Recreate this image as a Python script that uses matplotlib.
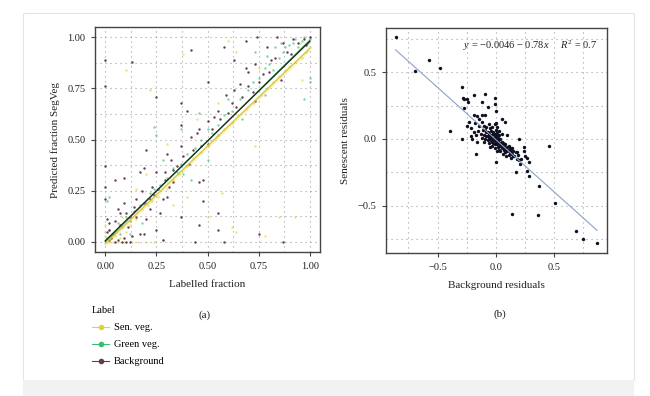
import matplotlib
matplotlib.use('Agg')
import matplotlib.pyplot as plt
from matplotlib.lines import Line2D
from matplotlib.patches import Rectangle
import numpy as np

plt.rcParams['font.family'] = ['Liberation Serif', 'DejaVu Serif']
plt.rcParams['mathtext.fontset'] = 'custom'
plt.rcParams['mathtext.rm'] = 'Liberation Serif'
plt.rcParams['mathtext.it'] = 'Liberation Serif:italic'

# ---- panel (a): labelled vs predicted fraction ----
bg_x = [0.00, 0.00, 0.00, 0.00, 0.00, 0.01, 0.05, 0.09, 0.13, 0.20, 0.19, 0.25, 0.25, 0.42, 0.58,
        0.74, 0.84, 0.69, 0.70, 0.73, 0.75, 0.79, 0.81, 0.63, 0.59, 0.50, 0.46, 0.37, 0.37, 0.37,
        0.32, 0.29, 0.31, 0.28, 0.27, 0.25, 0.28, 0.46, 0.48, 0.48, 0.46, 0.55, 0.55, 0.44, 0.58,
        0.75, 0.87, 0.37, 0.30, 0.23, 0.17, 0.15, 0.14, 0.10, 0.07, 0.04, 0.02, 0.06, 0.09, 0.13,
        0.17, 0.20, 0.22, 0.19, 0.07, 0.05, 0.02, 0.19, 0.24, 0.33, 0.38, 0.42, 0.45, 0.50, 0.53,
        0.55, 0.64, 0.66, 0.69, 0.73, 0.87, 0.91, 0.92, 0.86, 0.63, 0.50, 0.40, 0.30,
        0.01, 0.03, 0.05, 0.08, 0.10, 0.12, 0.02, 0.11, 0.15, 0.06, 0.09, 0.12, 0.18, 0.22, 0.26,
        0.29, 0.33, 0.35, 0.41, 0.43, 0.47, 0.52, 0.56, 0.60, 0.62, 0.67, 0.70, 0.72, 0.77, 0.80,
        0.83, 0.89, 0.94, 0.97, 1.00, 0.98]
bg_y = [0.89, 0.76, 0.37, 0.27, 0.21, 0.11, 0.30, 0.31, 0.88, 0.45, 0.36, 0.34, 0.71, 0.94, 0.95,
        1.00, 1.00, 0.98, 0.83, 0.69, 0.78, 0.95, 0.89, 0.74, 0.72, 0.59, 0.55, 0.68, 0.57, 0.47,
        0.40, 0.34, 0.27, 0.21, 0.14, 0.06, 0.01, 0.29, 0.30, 0.20, 0.08, 0.06, 0.14, 0.00, 0.00,
        0.04, 0.00, 0.12, 0.22, 0.27, 0.34, 0.21, 0.17, 0.14, 0.08, 0.04, 0.01, 0.01, 0.02, 0.03,
        0.04, 0.11, 0.16, 0.19, 0.14, 0.10, 0.06, 0.04, 0.23, 0.35, 0.42, 0.51, 0.53, 0.48, 0.61,
        0.64, 0.66, 0.77, 0.85, 0.87, 0.97, 0.92, 0.99, 0.79, 0.89, 0.78, 0.64, 0.43,
        0.05, 0.02, 0.00, 0.00, 0.00, 0.00, 0.09, 0.07, 0.12, 0.16, 0.19, 0.12, 0.25, 0.21, 0.26,
        0.30, 0.29, 0.37, 0.38, 0.45, 0.47, 0.55, 0.60, 0.63, 0.68, 0.71, 0.76, 0.73, 0.82, 0.83,
        0.90, 0.93, 0.97, 0.99, 1.00, 0.96]

gr_x = [0.75, 0.78, 0.80, 0.82, 0.85, 0.87, 0.88, 0.90, 0.92, 0.94, 0.96, 0.97, 0.99, 1.00, 0.93,
        0.86, 0.79, 0.83, 0.70, 0.72, 0.66, 0.62, 0.58, 0.55, 0.52, 0.50, 0.47, 0.44, 0.40, 0.37,
        0.35, 0.33, 0.30, 0.27, 0.24, 0.22, 0.20, 0.17, 0.14, 0.12, 0.10, 0.08, 0.06, 0.05, 0.03,
        0.02, 0.01, 0.07, 0.01, 0.02, 0.25, 0.24, 0.37, 0.46, 0.55, 0.60, 0.73, 1.00, 1.00, 0.97,
        0.42, 0.28, 0.12, 0.18, 0.67, 0.78, 0.50, 0.38]
gr_y = [0.80, 0.85, 0.87, 0.84, 0.90, 0.93, 0.95, 0.96, 0.97, 0.95, 0.98, 1.00, 0.97, 0.99, 0.99,
        0.97, 0.91, 0.95, 0.74, 0.78, 0.70, 0.64, 0.62, 0.57, 0.53, 0.55, 0.50, 0.46, 0.43, 0.38,
        0.34, 0.36, 0.31, 0.28, 0.26, 0.24, 0.19, 0.18, 0.15, 0.10, 0.12, 0.07, 0.09, 0.05, 0.03,
        0.06, 0.02, 0.04, 0.20, 0.22, 0.52, 0.56, 0.55, 0.63, 0.52, 0.70, 0.93, 0.78, 0.80, 0.70,
        0.30, 0.40, 0.04, 0.09, 0.60, 0.72, 0.40, 0.33]

sen_x = [0.02, 0.04, 0.06, 0.09, 0.13, 0.16, 0.20, 0.24, 0.28, 0.03, 0.05, 0.07, 0.10, 0.12, 0.15,
         0.18, 0.21, 0.23, 0.26, 0.30, 0.33, 0.36, 0.40, 0.43, 0.47, 0.50, 0.54, 0.58, 0.62, 0.65,
         0.69, 0.72, 0.76, 0.79, 0.82, 0.85, 0.88, 0.90, 0.93, 0.96, 0.98, 1.00, 0.95,
         0.10, 0.22, 0.38, 0.30, 0.62, 0.64, 0.85, 0.78, 0.57, 0.93, 0.60, 0.64, 0.73, 0.96, 0.50,
         0.20, 0.15, 0.33, 0.40, 0.45, 0.55, 0.75, 0.08, 0.00, 0.00, 0.00]
sen_y = [0.00, 0.00, 0.00, 0.00, 0.00, 0.00, 0.00, 0.00, 0.01, 0.02, 0.03, 0.02, 0.05, 0.08, 0.11,
         0.16, 0.18, 0.20, 0.22, 0.26, 0.30, 0.33, 0.37, 0.41, 0.44, 0.47, 0.51, 0.55, 0.58, 0.62,
         0.65, 0.68, 0.72, 0.75, 0.78, 0.81, 0.84, 0.86, 0.88, 0.90, 0.93, 0.95, 0.97,
         0.84, 0.74, 0.92, 0.48, 0.07, 0.05, 0.12, 0.03, 0.24, 0.12, 0.98, 0.93, 0.47, 0.79, 0.12,
         0.33, 0.26, 0.18, 0.22, 0.60, 0.68, 0.85, 0.12, 0.05, 0.08, 0.03]

# fitted lines per class: (intercept, slope)
fit_bg = (0.005, 0.975)
fit_gr = (0.000, 0.985)
fit_sen = (-0.010, 0.955)

# ---- panel (b): residuals ----
res_bx = [-0.86, -0.69, -0.57, -0.48, -0.29, -0.28, -0.27, -0.25, -0.24, -0.27, -0.19, -0.09, -0.12,
          -0.07, -0.01, -0.01, 0.00, -0.19, -0.16, -0.12, -0.09, -0.39, -0.29, -0.17, 0.00, 0.05,
          0.08, 0.10, 0.20, 0.24, 0.24, 0.25, 0.27, 0.29, 0.17, 0.27, 0.29, 0.37, 0.46, 0.51, 0.14,
          0.36, 0.69, 0.75, 0.87, 0.21, 0.18, 0.15, 0.12, 0.09, 0.08, 0.14, 0.18, 0.22, 0.11, 0.06,
          0.04,
          -0.02, 0.00, -0.04, -0.01, 0.01, -0.03, 0.02, -0.05, -0.06, 0.03, -0.02, 0.00, -0.04, 0.01,
          -0.01, 0.00, -0.07, -0.08, -0.09, -0.06, -0.03, 0.00, 0.02, 0.04, 0.05, 0.06, 0.03, 0.07,
          0.08, 0.10, 0.11, 0.09, 0.12, 0.13, 0.14, -0.10, -0.11, -0.12, -0.13, -0.15, -0.17, -0.19,
          -0.21, -0.20, -0.16, -0.14, -0.12, -0.10, -0.08, -0.06, -0.05, -0.03, -0.01, 0.01, 0.02,
          0.04, -0.02, -0.04, -0.07, -0.05, -0.01, 0.01, 0.05, 0.06, 0.08, 0.10, 0.12, 0.15, 0.16,
          0.17, 0.19, 0.20, 0.03, 0.05, -0.03, -0.01, 0.00, -0.02, 0.01, -0.04, -0.06, -0.08, 0.00,
          0.02, -0.10, -0.25, -0.23, -0.18, -0.14, -0.21, -0.03, 0.02, -0.05, 0.04, -0.01, 0.06,
          -0.02, -0.03, 0.01, -0.01, 0.02, -0.04, 0.00, -0.02, 0.03, -0.05, 0.01, -0.03, 0.04, 0.05,
          0.07, 0.09, -0.07, -0.09, 0.11, 0.13]
res_sy = [0.76, 0.51, 0.59, 0.53, 0.39, 0.31, 0.30, 0.30, 0.28, 0.23, 0.33, 0.34, 0.28, 0.24, 0.31,
          0.26, 0.21, 0.18, 0.17, 0.18, 0.18, 0.06, 0.00, -0.11, -0.17, 0.15, 0.13, 0.03, 0.00,
          -0.06, -0.09, -0.13, -0.14, -0.17, -0.25, -0.24, -0.28, -0.35, -0.05, -0.48, -0.56,
          -0.57, -0.69, -0.75, -0.78, -0.19, -0.15, -0.13, -0.11, -0.09, -0.07, -0.07, -0.10, -0.15,
          -0.05, -0.05, -0.09,
          0.01, 0.02, 0.03, -0.01, 0.00, -0.02, -0.02, 0.00, 0.04, 0.03, 0.05, 0.07, 0.06, 0.09,
          0.11, 0.12, 0.02, 0.05, 0.00, -0.03, -0.05, -0.04, -0.06, -0.04, -0.02, -0.05, -0.08,
          -0.08, -0.10, -0.09, -0.12, -0.13, -0.10, -0.14, -0.11, 0.03, 0.07, 0.01, 0.04, 0.06,
          0.03, 0.05, 0.08, 0.00, -0.02, 0.10, 0.13, 0.10, 0.09, 0.11, 0.08, 0.09, 0.04, 0.05,
          0.01, 0.00, -0.03, -0.01, -0.01, -0.06, -0.07, -0.09, -0.07, -0.11, -0.04, -0.06, -0.07,
          -0.09, -0.13, -0.10, -0.12, -0.16, 0.06, 0.04, 0.00, 0.02, 0.00, -0.01, 0.03, 0.02, 0.01,
          0.02, -0.02, -0.03, -0.02, 0.10, 0.13, 0.12, 0.15, 0.02, -0.01, -0.01, 0.01, -0.03, -0.04,
          -0.03,
          0.00, 0.01, -0.01, 0.02, -0.01, 0.01, 0.03, 0.04, -0.03, 0.02, -0.04, -0.01, -0.05, -0.03,
          -0.06, -0.07, 0.05, 0.07, -0.08, -0.09]
res_fit = (-0.0046, -0.78)
res_fit_range = [-0.86, 0.87]

col_sen = '#e3d13a'
col_gr = '#3cbb75'
col_bg = '#4a1a3c'

fig = plt.figure(figsize=(6.5, 3.96), dpi=100)
fig.patch.set_facecolor('white')
fig.patches.append(Rectangle((23 / 650, 1 - 380 / 396), 611 / 650, 367 / 396, transform=fig.transFigure,
                             facecolor='white', edgecolor='#e4e4e4', linewidth=0.8, zorder=-10))
fig.patches.append(Rectangle((23 / 650, 0), 611 / 650, 16 / 396, transform=fig.transFigure,
                             facecolor='#f2f2f2', edgecolor='none', zorder=-10))

ax1 = fig.add_axes([95 / 650, 1 - 252 / 396, 225 / 650, 225 / 396])
ax2 = fig.add_axes([386 / 650, 1 - 253 / 396, 221 / 650, 225 / 396])


def style(ax):
    ax.set_facecolor('white')
    ax.grid(True, which='both', linestyle=(0, (1, 3.5)), color='#a0a0a0', linewidth=0.8)
    ax.set_axisbelow(True)
    for s in ax.spines.values():
        s.set_color('#444444')
        s.set_linewidth(1.0)
    ax.tick_params(which='major', length=3, width=0.8, color='#444444', labelsize=7.5,
                   labelcolor='#222222', pad=4)
    ax.tick_params(which='minor', length=0)


# panel (a)
ax1.scatter(sen_x, sen_y, s=3, color=col_sen, alpha=0.65, linewidths=0)
ax1.scatter(gr_x, gr_y, s=3, color=col_gr, alpha=0.65, linewidths=0)
ax1.scatter(bg_x, bg_y, s=3, color=col_bg, alpha=0.85, linewidths=0)
xx = np.array([0.0, 1.0])
ax1.fill_between(xx, fit_sen[0] + fit_sen[1] * xx - 0.012, fit_sen[0] + fit_sen[1] * xx + 0.012,
                 color=col_sen, alpha=0.25, linewidth=0)
ax1.plot(xx, fit_sen[0] + fit_sen[1] * xx, color='#d9c53a', linewidth=0.9)
ax1.plot(xx, fit_gr[0] + fit_gr[1] * xx, color='#2f9e5e', linewidth=0.9)
ax1.plot(xx, fit_bg[0] + fit_bg[1] * xx, color='#1c2a14', linewidth=0.9)
ax1.set_xlim(-0.05, 1.05)
ax1.set_ylim(-0.05, 1.05)
ax1.set_xticks([0, 0.25, 0.5, 0.75, 1.0])
ax1.set_yticks([0, 0.25, 0.5, 0.75, 1.0])
ax1.set_xticks([0.125, 0.375, 0.625, 0.875], minor=True)
ax1.set_yticks([0.125, 0.375, 0.625, 0.875], minor=True)
ax1.set_xticklabels(['0.00', '0.25', '0.50', '0.75', '1.00'])
ax1.set_yticklabels(['0.00', '0.25', '0.50', '0.75', '1.00'])
style(ax1)
ax1.set_xlabel('Labelled fraction', fontsize=8, color='#222222', labelpad=7)
ax1.set_ylabel('Predicted fraction SegVeg', fontsize=8, color='#222222', labelpad=5)

# panel (b)
ax2.scatter(res_bx, res_sy, s=6, color='#101020', linewidths=0)
rx = np.array(res_fit_range)
ax2.plot(rx, res_fit[0] + res_fit[1] * rx, color='#8aa3c4', linewidth=0.8)
ax2.set_xlim(-0.943, 0.956)
ax2.set_ylim(-0.853, 0.83)
ax2.set_xticks([-0.5, 0.0, 0.5])
ax2.set_yticks([-0.5, 0.0, 0.5])
ax2.set_xticks([-0.75, -0.25, 0.25, 0.75], minor=True)
ax2.set_yticks([-0.75, -0.25, 0.25, 0.75], minor=True)
ax2.set_xticklabels(['\u22120.5', '0.0', '0.5'])
ax2.set_yticklabels(['\u22120.5', '0.0', '0.5'])
style(ax2)
ax2.set_xlabel('Background residuals', fontsize=8, color='#222222', labelpad=7)
ax2.set_ylabel('Senescent residuals', fontsize=8, color='#222222', labelpad=5)
eq = '$y$ = \u22120.0046 \u2212 0.78$x$     $R^2$ = 0.7'
ax2.text(0.955, 0.92, eq, transform=ax2.transAxes, ha='right', va='center', fontsize=7.5,
         color='#222222')

# captions
fig.text(205 / 650, 1 - 315 / 396, '(a)', ha='center', va='center', fontsize=8, color='#222222')
fig.text(500 / 650, 1 - 314 / 396, '(b)', ha='center', va='center', fontsize=8, color='#222222')

handles = [Line2D([0], [0], color=col_sen, marker='o', markersize=3, linewidth=0.8),
           Line2D([0], [0], color=col_gr, marker='o', markersize=3, linewidth=0.8),
           Line2D([0], [0], color='#6a3a4c', marker='o', markersize=3, linewidth=0.8)]
fig.legend(handles, ['Sen. veg.', 'Green veg.', 'Background'], loc='upper left',
           bbox_to_anchor=(88 / 650, 1 - 302 / 396), frameon=False, title='Label',
           alignment='left', fontsize=7.5, title_fontsize=7.5, handlelength=1.6,
           labelspacing=0.75, handletextpad=0.5, borderaxespad=0)

fig.savefig('out.png', dpi=100)
